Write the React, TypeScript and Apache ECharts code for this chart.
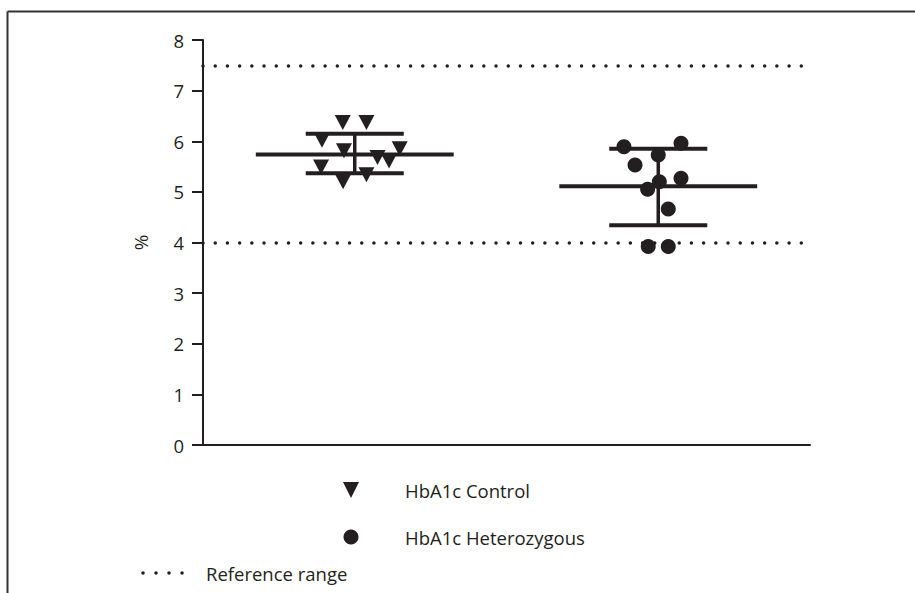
import React, { useEffect, useRef } from "react";
import * as echarts from "echarts";

// ---- data ----
const groupNames = ["HbA1c Control", "HbA1c Heterozygous"];
const groupCenters = [1, 3];
const groupMeans = [5.74, 5.11];
const groupUpper = [6.15, 5.85];
const groupLower = [5.37, 4.34];

const controlX = [0.921, 1.077, 0.784, 0.929, 1.15, 1.226, 1.296, 0.778, 0.923, 1.077];
const controlY = [6.37, 6.37, 6.02, 5.81, 5.68, 5.61, 5.85, 5.49, 5.2, 5.34];

const hetX = [2.774, 3.15, 3.0, 2.847, 3.15, 3.007, 2.93, 3.066, 2.934, 3.066];
const hetY = [5.89, 5.96, 5.73, 5.53, 5.27, 5.2, 5.05, 4.66, 3.92, 3.92];

const refRange = [4, 7.5];
const refLabel = "Reference range";
const yAxisName = "%";
const yMin = 0;
const yMax = 8;
const yInterval = 1;

const INK = "#231f20";
const FONT = "'Open Sans', Lato, sans-serif";

export default function App() {
  const ref = useRef<HTMLDivElement>(null);

  useEffect(() => {
    if (!ref.current) return;
    const chart = echarts.init(ref.current, undefined, { renderer: "svg" });

    const errData = groupCenters.map((c, i) => [c, groupMeans[i], groupLower[i], groupUpper[i]]);

    const option: any = {
      animation: false,
      backgroundColor: "#ffffff",
      textStyle: { fontFamily: FONT, color: INK },
      grid: { left: 203, right: 105, top: 40, bottom: 148, containLabel: false },
      xAxis: {
        type: "value",
        min: 0,
        max: 4,
        axisLine: { show: true, lineStyle: { color: INK, width: 2 } },
        axisTick: { show: false },
        axisLabel: { show: false },
        splitLine: { show: false },
      },
      yAxis: {
        type: "value",
        min: yMin,
        max: yMax,
        interval: yInterval,
        name: yAxisName,
        nameLocation: "middle",
        nameGap: 53,
        nameRotate: 90,
        nameTextStyle: { fontFamily: FONT, fontSize: 19, color: INK },
        axisLine: { show: true, lineStyle: { color: INK, width: 2 } },
        axisTick: { show: true, inside: false, length: 11, lineStyle: { color: INK, width: 2 } },
        axisLabel: { fontFamily: FONT, fontSize: 18.5, color: INK, margin: 19 },
        splitLine: { show: false },
      },
      series: [
        {
          type: "custom",
          name: "sd",
          data: errData,
          z: 2,
          silent: true,
          renderItem: (params: any, api: any) => {
            const x = api.value(0);
            const m = api.value(1);
            const lo = api.value(2);
            const hi = api.value(3);
            const pm = api.coord([x, m]);
            const plo = api.coord([x, lo]);
            const phi = api.coord([x, hi]);
            const unit = api.size([1, 0])[0];
            const meanHalf = 0.652 * unit;
            const capHalf = 0.323 * unit;
            const st = { stroke: INK, lineWidth: 4 };
            return {
              type: "group",
              children: [
                { type: "line", shape: { x1: pm[0] - meanHalf, y1: pm[1], x2: pm[0] + meanHalf, y2: pm[1] }, style: st },
                { type: "line", shape: { x1: phi[0] - capHalf, y1: phi[1], x2: phi[0] + capHalf, y2: phi[1] }, style: st },
                { type: "line", shape: { x1: plo[0] - capHalf, y1: plo[1], x2: plo[0] + capHalf, y2: plo[1] }, style: st },
                { type: "line", shape: { x1: pm[0], y1: phi[1], x2: pm[0], y2: plo[1] }, style: { stroke: INK, lineWidth: 3.5 } },
              ],
            };
          },
        },
        {
          type: "scatter",
          name: groupNames[0],
          symbol: "triangle",
          symbolRotate: 180,
          symbolSize: [16, 15],
          itemStyle: { color: INK, opacity: 1 },
          z: 3,
          data: controlX.map((x, i) => [x, controlY[i]]),
          markLine: {
            silent: true,
            symbol: ["none", "none"],
            label: { show: false },
            lineStyle: { color: INK, width: 3.5, type: [0.01, 12.2], cap: "round" },
            data: refRange.map((v) => ({ yAxis: v })),
          },
        },
        {
          type: "scatter",
          name: groupNames[1],
          symbol: "circle",
          symbolSize: 15,
          itemStyle: { color: INK, opacity: 1 },
          z: 3,
          data: hetX.map((x, i) => [x, hetY[i]]),
        },
      ],
      graphic: [
        // frame
        { type: "line", shape: { x1: 7.5, y1: 11.5, x2: 915, y2: 11.5 }, style: { stroke: "#333", lineWidth: 2 } },
        { type: "line", shape: { x1: 7.5, y1: 11.5, x2: 7.5, y2: 593 }, style: { stroke: "#333", lineWidth: 2 } },
        // legend
        { type: "polygon", shape: { points: [[343, 482], [359, 482], [351, 498]] }, style: { fill: INK } },
        { type: "text", x: 405, y: 490, style: { text: groupNames[0], fontFamily: FONT, fontSize: 18.5, fill: INK, verticalAlign: "middle" } },
        { type: "circle", shape: { cx: 351, cy: 537, r: 7.5 }, style: { fill: INK } },
        { type: "text", x: 405, y: 537, style: { text: groupNames[1], fontFamily: FONT, fontSize: 18.5, fill: INK, verticalAlign: "middle" } },
        { type: "line", shape: { x1: 143, y1: 573, x2: 184, y2: 573 }, style: { stroke: INK, lineWidth: 3.5, lineDash: [0.01, 13], lineCap: "round" } },
        { type: "text", x: 206, y: 573, style: { text: refLabel, fontFamily: FONT, fontSize: 18.5, fill: INK, verticalAlign: "middle" } },
      ],
    };

    chart.setOption(option);
    return () => chart.dispose();
  }, []);

  return (
    <div
      ref={ref}
      style={{ position: "fixed", left: 0, top: 0, width: 915, height: 593, background: "#fff" }}
    />
  );
}
